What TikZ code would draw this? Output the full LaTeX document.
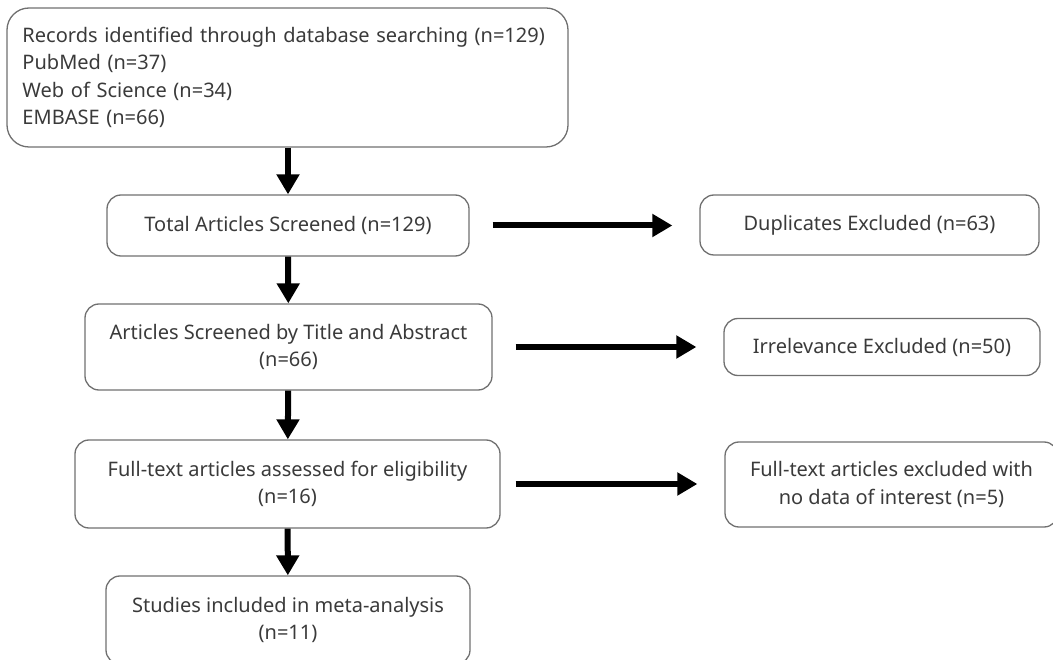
\documentclass[tikz,border=0pt]{standalone}
\usepackage{fontspec}
\setmainfont{Noto Sans}
\usepackage{tikz}
\usetikzlibrary{
  arrows.meta,
  calc,
  positioning}

\definecolor{boxline}{HTML}{707070}
\definecolor{boxtext}{HTML}{3A3A3A}

\begin{document}
\begin{tikzpicture}[
      x=1pt, y=-1pt,
      block/.style={
        rectangle,
        draw=boxline,
        line width=1.3pt,
        rounded corners=14pt,
        inner sep=0pt,
        align=center,
        text=boxtext,
        font=\fontsize{20}{27.5}\selectfont,
      },
      search/.style={
        rounded corners=22pt,
        minimum width=561pt,
        minimum height=139pt,
        text width=530pt,
        align=left,
      },
      flow/.style={
        -{Triangle[length=20pt,width=22pt]},
        line width=6pt,
      },
      flow-side/.style={
        flow,
        shorten >=27pt,
      },
    ]
    \clip (0,0) rectangle (1053,660);
    \coordinate (search) at (287.5,77.5);
    \coordinate (total) at (288,225.5);
    \coordinate (dup) at (869.5,225);
    \coordinate (title) at (288.5,347);
    \coordinate (irr) at (882,347);
    \coordinate (full) at (287.5,484);
    \coordinate (nodata) at (891.5,484.5);
    \coordinate (meta) at (288,620);
    \node[block, search] (search-node) at (search) {Records identified through database searching (n=129)\\PubMed (n=37)\\Web of Science (n=34)\\EMBASE (n=66)};
    \node[block, minimum width=362pt, minimum height=61pt] (total-node) at (total) {Total Articles Screened (n=129)};
    \node[block, minimum width=339pt, minimum height=60pt] (dup-node) at (dup) {Duplicates Excluded (n=63)};
    \node[block, minimum width=407pt, minimum height=86pt] (title-node) at (title) {Articles Screened by Title and Abstract\\(n=66)};
    \node[block, minimum width=316pt, minimum height=57pt] (irr-node) at (irr) {Irrelevance Excluded (n=50)};
    \node[block, minimum width=425pt, minimum height=88pt] (full-node) at (full) {Full-text articles assessed for eligibility\\(n=16)};
    \node[block, minimum width=333pt, minimum height=85pt] (nodata-node) at (nodata) {Full-text articles excluded with\\no data of interest (n=5)};
    \node[block, minimum width=364pt, minimum height=88pt] (meta-node) at (meta) {Studies included in meta-analysis\\(n=11)};
    % main path down the left
    \draw[flow] (search-node.south -| total-node) -- (total-node.north);
    \draw[flow] (total-node) -- (title-node);
    \draw[flow] (title-node) -- (full-node);
    \draw[flow] (full-node) -- (meta-node);
    % exclusions to the right
    \draw[flow-side] ([xshift=23pt]total-node.east) -- (total-node.east -| dup-node.west);
    \draw[flow-side] ([xshift=23pt]title-node.east) -- (title-node.east -| irr-node.west);
    \draw[flow-side] ([xshift=15pt]full-node.east) -- (full-node.east -| nodata-node.west);
  \end{tikzpicture}
\end{document}
